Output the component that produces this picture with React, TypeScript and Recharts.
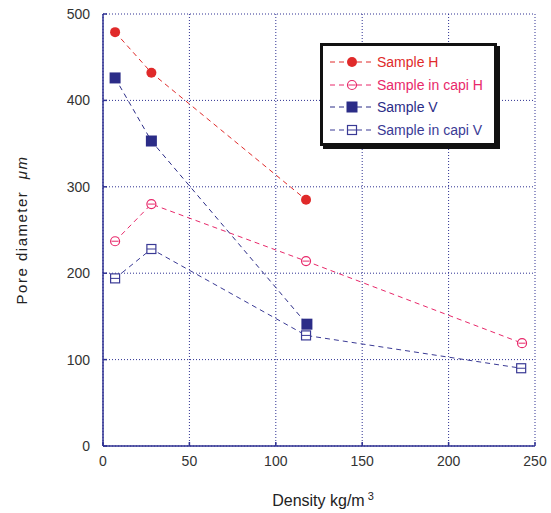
import { LineChart, Line, XAxis, YAxis, CartesianGrid } from "recharts";

const densityH = [7, 28, 117.5];
const poreH = [479, 432, 285];
const densityCapiH = [7, 28, 117.5, 242.5];
const poreCapiH = [237, 280, 214, 119];
const densityV = [7, 28, 118];
const poreV = [426, 353, 141];
const densityCapiV = [7, 28, 117.5, 242];
const poreCapiV = [194, 228, 128, 90];

const xTicks = [0, 50, 100, 150, 200, 250];
const yTicks = [0, 100, 200, 300, 400, 500];

const AXIS = "#2e3192";
const FONT = "'Liberation Sans', Arial, sans-serif";

type Kind = "dot" | "ring" | "square" | "box";

const zip = (xs: number[], ys: number[]) => xs.map((x, i) => ({ x, y: ys[i] }));

const series = [
  { name: "Sample H", data: zip(densityH, poreH), color: "#e02a2a", kind: "dot" as Kind },
  { name: "Sample in capi H", data: zip(densityCapiH, poreCapiH), color: "#e8286a", kind: "ring" as Kind },
  { name: "Sample V", data: zip(densityV, poreV), color: "#2b2c87", kind: "square" as Kind },
  { name: "Sample in capi V", data: zip(densityCapiV, poreCapiV), color: "#3a3a95", kind: "box" as Kind },
];

function Marker({ cx, cy, kind, color }: { cx: number; cy: number; kind: Kind; color: string }) {
  if (kind === "dot") return <circle cx={cx} cy={cy} r={5} fill={color} />;
  if (kind === "ring")
    return (
      <g>
        <circle cx={cx} cy={cy} r={4.5} fill="white" stroke={color} strokeWidth={1.2} />
        <line x1={cx - 3.5} x2={cx + 3.5} y1={cy} y2={cy} stroke={color} strokeWidth={1} />
      </g>
    );
  if (kind === "square") return <rect x={cx - 5.5} y={cy - 5.5} width={11} height={11} fill={color} />;
  return (
    <g>
      <rect x={cx - 4.5} y={cy - 4.5} width={9} height={9} fill="white" stroke={color} strokeWidth={1.2} />
      <line x1={cx - 4.5} x2={cx + 4.5} y1={cy} y2={cy} stroke={color} strokeWidth={1} />
    </g>
  );
}

function LegendBox() {
  return (
    <div
      style={{
        position: "absolute",
        left: 320,
        top: 43,
        width: 171,
        height: 97,
        border: "3px solid #111",
        boxShadow: "3px 3px 0 #111",
        background: "white",
        fontFamily: FONT,
        fontSize: 14,
      }}
    >
      {series.map((s, i) => (
        <div key={s.name} style={{ position: "absolute", left: 5, top: 8 + i * 22.5, height: 16, display: "flex", alignItems: "center" }}>
          <svg width={48} height={16}>
            <line x1={2} x2={46} y1={8} y2={8} stroke={s.color} strokeWidth={1} strokeDasharray="5 4" />
            <Marker cx={24} cy={8} kind={s.kind} color={s.color} />
          </svg>
          <span style={{ color: s.color, marginLeft: 1 }}>{s.name}</span>
        </div>
      ))}
    </div>
  );
}

export default function App() {
  return (
    <div style={{ position: "absolute", left: 0, top: 0, width: 551, height: 513, background: "white" }}>
      <LineChart width={551} height={513} margin={{ top: 14, right: 16, bottom: 0, left: 0 }}>
        <CartesianGrid stroke={AXIS} strokeDasharray="1 2" horizontalValues={yTicks} verticalValues={xTicks} />
        <XAxis
          type="number"
          dataKey="x"
          domain={[0, 250]}
          ticks={xTicks}
          height={67}
          stroke={AXIS}
          strokeWidth={1.5}
          tickSize={-4}
          tickMargin={14}
          tick={{ fill: "#333", fontSize: 14, fontFamily: FONT }}
          allowDuplicatedCategory={false}
        />
        <XAxis xAxisId="top" orientation="top" type="number" dataKey="x" domain={[0, 250]} ticks={xTicks} height={0} stroke={AXIS} strokeWidth={1.5} tick={false} />
        <YAxis
          type="number"
          domain={[0, 500]}
          ticks={yTicks}
          width={103}
          stroke={AXIS}
          strokeWidth={1.5}
          tickSize={-4}
          tickMargin={17}
          tick={{ fill: "#333", fontSize: 14, fontFamily: FONT }}
        />
        <YAxis yAxisId="right" orientation="right" type="number" domain={[0, 500]} ticks={yTicks} width={0} stroke={AXIS} strokeWidth={1.5} tickSize={-4} tick={false} />
        {series.map((s) => (
          <Line
            key={s.name}
            data={s.data}
            dataKey="y"
            name={s.name}
            stroke={s.color}
            strokeWidth={1}
            strokeDasharray="5 4"
            isAnimationActive={false}
            dot={(p: any) => <Marker key={`${s.name}-${p.index}`} cx={p.cx} cy={p.cy} kind={s.kind} color={s.color} />}
            activeDot={false}
          />
        ))}
      </LineChart>
      <LegendBox />
      <div
        style={{
          position: "absolute",
          left: 21,
          top: 230,
          transform: "translate(-50%, -50%) rotate(-90deg)",
          whiteSpace: "pre",
          fontFamily: FONT,
          fontSize: 15,
          color: "#222",
          letterSpacing: 1.5,
        }}
      >
        {"Pore diameter  "}
        <span style={{ fontStyle: "italic" }}>μm</span>
      </div>
      <div
        style={{
          position: "absolute",
          left: 323,
          top: 500,
          transform: "translate(-50%, -50%)",
          whiteSpace: "nowrap",
          fontFamily: FONT,
          fontSize: 16,
          color: "#222",
        }}
      >
        Density kg/m<sup style={{ fontSize: 11, marginLeft: 3 }}>3</sup>
      </div>
    </div>
  );
}
